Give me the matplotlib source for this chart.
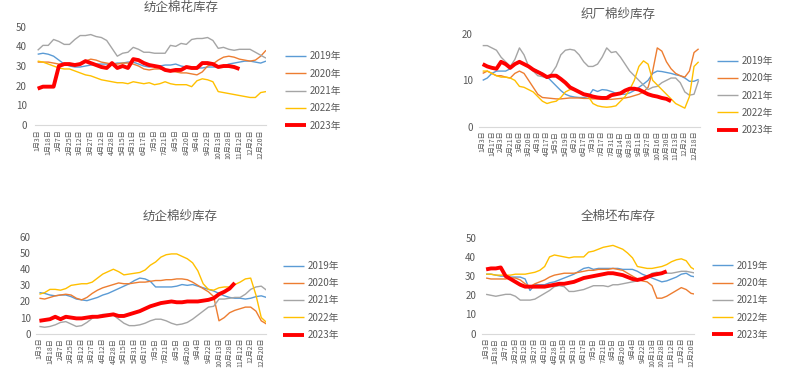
import numpy as np
import matplotlib
matplotlib.use('Agg')
import matplotlib.pyplot as plt

plt.rcParams['font.family'] = ['Noto Sans CJK SC', 'DejaVu Sans']

nan = np.nan

# x 轴标签
dates_a = ['1月3日', '1月18日', '2月7日', '2月25日', '3月12日', '3月27日', '4月12日', '4月28日',
           '5月15日', '5月31日', '6月17日', '7月5日', '7月21日', '8月5日', '8月20日', '9月4日',
           '9月22日', '10月13日', '10月28日', '11月12日', '12月2日', '12月20日']
dates_b = ['1月3日', '1月17日', '2月3日', '2月21日', '3月6日', '3月20日', '4月3日', '4月17日',
           '5月5日', '5月19日', '6月2日', '6月17日', '7月3日', '7月17日', '7月31日', '8月14日',
           '8月28日', '9月11日', '9月27日', '10月16日', '10月30日', '11月13日', '12月2日', '12月18日']
years = ['2019年', '2020年', '2021年', '2022年', '2023年']

# 纺企棉花库存
cotton_2019 = [36, 36.5, 36, 35, 33, 31, 30, 29.5, 29.5, 30, 30.5, 31, 31, 31, 31, 31.5, 31.5, 32, 32, 31,
               30, 29.5, 30, 30, 30.5, 30.5, 31, 30, 29.5, 29, 29, 29, 29.5, 29.5, 29.5, 30, 31, 31.5, 32, 32.5,
               32.5, 32, 31.5, 32.5]
cotton_2020 = [32, 32, 32, 31.5, 31, 31, 30.5, 30.5, 31, 32.5, 33.5, 33, 32, 31.5, 31, 31, 31.5, 31.5, 31, 30,
               28.5, 28, 28.5, 28.5, 28, 27.5, 27, 26.5, 26.5, 26, 25.5, 27, 30, 31, 33, 34.5, 35, 34.5, 33.5, 33,
               32.5, 33, 35, 38]
cotton_2021 = [38, 40.5, 40.5, 43.5, 42.5, 41, 41, 43.5, 45.5, 45.5, 46, 45, 44.5, 43, 39, 35, 36.5, 37, 39.5, 38.5,
               37, 37, 36.5, 36.5, 36.5, 40.5, 40, 41.5, 41, 43.5, 44, 44, 44.5, 43, 39, 39.5, 38.5, 38, 38.5, 38.5,
               38.5, 37, 35.5, 34]
cotton_2022 = [32.5, 32, 31, 30, 29, 28.5, 28.5, 27.5, 26.5, 25.5, 25, 24, 23, 22.5, 22, 21.5, 21.5, 21, 22, 21.5,
               21, 21.5, 20.5, 21, 22, 21, 20.5, 20.5, 20.5, 19.5, 22.5, 23.5, 23, 22, 17, 16.5, 16, 15.5, 15, 14.5,
               14, 14, 16.5, 17]
cotton_2023 = [18.5, 19.5, 19.5, 19.5, 30, 31, 31, 30.5, 31, 32.5, 31.5, 30.5, 29.5, 29, 31.5, 29, 30, 29, 33.5, 33,
               31.5, 30.5, 30, 29.5, 28, 27.5, 28, 28, 29.5, 29, 29, 31.5, 31.5, 31, 29.5, 30, 30, 29.5, 28.5,
               nan, nan, nan, nan, nan]

# 织厂棉纱库存
weave_2019 = [10, 10.5, 11.5, 12, 12, 12, 12.5, 13.5, 14, 13.5, 13, 12.5, 12, 11.5, 10.8, 9.8, 8.8, 7.8, 7, 6.6,
              6.4, 6.3, 6.3, 6.5, 8, 7.6, 8, 7.9, 7.6, 7.2, 7, 7, 7.3, 7.8, 8.5, 9.2, 10, 11.5, 12, 11.9,
              11.7, 11.5, 11.2, 11, 10.5, 9.8, 9.8, 10.2]
weave_2020 = [11.5, 12, 11.5, 11, 11, 10.7, 10.5, 11.5, 12, 11.5, 10, 8.5, 7, 6.3, 6.2, 6.1, 6, 6, 6.1, 6.2,
              6.2, 6.2, 6.1, 6.1, 6, 6, 5.9, 5.9, 5.9, 6, 6.1, 6.2, 6.4, 6.7, 7, 7.5, 8.5, 12, 17, 16.3,
              14, 12.5, 11.5, 11, 10.7, 12, 16, 16.8]
weave_2021 = [17.5, 17.5, 17, 16.5, 15, 14, 13, 14.5, 17, 15.5, 13, 12, 11, 10.8, 10.5, 11.5, 13, 15.5, 16.5, 16.7,
              16.5, 15.5, 14, 13, 13, 13.5, 15, 17, 16, 16.2, 15, 13.5, 12, 11, 10, 9, 8, 8.5, 8.7, 9.5,
              10, 10.5, 10.5, 9.5, 7.5, 6.8, 7, 10]
weave_2022 = [12, 12, 11.5, 11, 10.7, 10.7, 10.5, 10, 8.7, 8.5, 8, 7.5, 6.5, 5.5, 5, 5.3, 5.5, 6.3, 7.5, 8,
              8, 7.5, 7, 6.5, 5, 4.5, 4.3, 4.2, 4.3, 4.5, 5.5, 6.5, 8, 10, 13, 14.2, 13.5, 10, 9, 8,
              7, 6, 5, 4.5, 4, 6.5, 13, 14]
weave_2023 = [13.5, 13, 12.7, 12.5, 14, 13.5, 12.7, 13.5, 14, 13.5, 13, 12.3, 11.8, 11.3, 10.7, 11, 11, 10.3, 9.5, 8.5,
              8, 7.5, 7, 6.8, 6.5, 6.3, 6.2, 6.2, 6.8, 7, 7.2, 7.8, 8.2, 8.2, 8, 7.5, 7, 6.7, 6.5, 6.2,
              6, 5.5, nan, nan, nan, nan, nan, nan]

# 纺企棉纱库存
yarn_2019 = [25.5, 25, 24, 23.5, 24, 24, 23, 21.5, 21, 20.5, 21.5, 22.5, 24, 25, 26.5, 28, 29.5, 31, 33, 34.5,
             34, 32.5, 29, 29, 29, 29, 29.5, 30.5, 30, 30.5, 29.5, 28.5, 27.5, 26.5, 25, 23.5, 22.5, 22, 22, 21.5,
             22, 23, 23.5, 22.5]
yarn_2020 = [22, 21.5, 22.5, 23.5, 24, 24.5, 24, 22, 21, 22.5, 25, 27, 28.5, 29.5, 30.5, 31.5, 31, 31, 31.5, 32,
             32, 32.5, 33, 33, 33.5, 33.5, 34, 34, 33.5, 32, 30, 28, 26, 23, 8, 10, 13, 14.5, 15.5, 16.5,
             16.5, 14, 8, 6]
yarn_2021 = [4.5, 4, 4.5, 5.5, 7, 7.5, 6, 4.5, 5, 7, 9.5, 11, 12, 12, 11.5, 9, 6.5, 5, 5, 5.5,
             6.5, 8, 9, 9, 8, 6.5, 5.5, 6, 7, 9, 11.5, 14, 16.5, 17, 21.5, 21.5, 22, 22.5, 22.5, 24.5,
             27.5, 29, 29.5, 27]
yarn_2022 = [24.5, 25.5, 27.5, 27.5, 27, 28, 30, 30.5, 31, 31, 32, 34.5, 37, 38.5, 40, 38.5, 36.5, 37, 37.5, 38,
             39.5, 42.5, 44.5, 47.5, 49, 49.5, 49.5, 48, 46.5, 44, 39, 31, 27.5, 27, 28.5, 29, 29, 30.5, 32, 34,
             34.5, 24, 10, 7]
yarn_2023 = [8, 8.5, 9, 10.5, 9, 10.5, 10, 9.5, 9.5, 10, 10.5, 10.5, 11, 11.5, 12, 11, 11, 12, 13, 14,
             15.5, 17, 18, 19, 19.5, 20, 19.5, 19.5, 20, 20, 20, 20.5, 21, 22, 24.5, 26, 28, 31.5,
             nan, nan, nan, nan, nan, nan]

# 全棉坯布库存
cloth_2019 = [31, 31, 30.5, 30, 30, 29.5, 29.5, 29.5, 28.5, 22.5, 25.5, 25.5, 25.5, 26.5, 27, 28, 29, 30, 31, 32.5,
              34, 34.5, 33.5, 34, 34, 34, 34, 34, 33.5, 33.5, 33.5, 32.5, 31, 30, 29, 28, 27, 27.5, 28.5, 29.5,
              31, 31.5, 30, 29.5]
cloth_2020 = [29, 28.5, 28.5, 28.5, 28.5, 29, 29, 28, 26, 24.5, 26, 27, 28, 29.5, 30.5, 31, 31.5, 31.5, 31.5, 32,
              32.5, 33, 33, 33.5, 33.5, 33.5, 34, 33.5, 33, 31.5, 30, 28.5, 27.5, 27, 25, 18.5, 18.5, 19.5, 21, 22.5,
              24, 23, 21, 20.5]
cloth_2021 = [20.5, 20, 19.5, 20, 20.5, 20.5, 19.5, 17.5, 17.5, 17.5, 18, 19.5, 21, 22.5, 24.5, 25, 24.5, 22, 22, 22.5,
              23, 24, 25, 25, 25, 24.5, 25.5, 25.5, 26, 26.5, 27, 27.5, 28.5, 29, 31.5, 32, 31.5, 31.5, 31.5, 32,
              32.5, 32.5, 32, 31.5]
cloth_2022 = [31, 31, 30.5, 30.5, 30.5, 30.5, 31, 31, 31, 31.5, 32, 33, 35, 40, 41, 40.5, 40, 39.5, 40, 40,
              40, 42.5, 43, 44, 45, 45.5, 46, 45, 44, 42, 39.5, 35, 34.5, 34, 34, 34.5, 35, 36, 37.5, 38.5,
              39, 38, 34.5, 33]
cloth_2023 = [33.5, 34, 34, 34.5, 30, 28.5, 27, 25.5, 24.5, 24.5, 24.5, 24.5, 24.5, 25, 25.5, 26, 26, 26.5, 27, 28,
              29, 29.5, 30, 30.5, 31, 31.5, 31.5, 31, 30.5, 29.5, 28.5, 28, 28.5, 29.5, 30.5, 31, 31.5, 32.5,
              nan, nan, nan, nan, nan, nan]

colors = ['#5B9BD5', '#ED7D31', '#A5A5A5', '#FFC000', '#FF0000']
widths = [1.0, 1.0, 1.0, 1.0, 2.8]
TXT = '#595959'
W, H = 800, 382

fig = plt.figure(figsize=(W / 100, H / 100), dpi=100)


def px_box(l, t, r, b):
    return [l / W, 1 - b / H, (r - l) / W, (b - t) / H]


def panel(box, series, labels, ymax, xlim, title, title_xy, leg_xy, ypad):
    ax = fig.add_axes(px_box(*box))
    x = np.arange(len(series[0]))
    for vals, c, lw, name in zip(series, colors, widths, years):
        ax.plot(x, vals, color=c, lw=lw, label=name, solid_capstyle='butt')
    ax.set_xlim(*xlim)
    ax.set_ylim(0, ymax)
    ax.set_yticks(np.arange(0, ymax + 1, 10))
    ax.set_xticks(np.arange(0, 2 * len(labels), 2))
    ax.set_xticklabels(labels, rotation=90, fontsize=5, color=TXT)
    ax.tick_params(axis='x', length=0, pad=3)
    ax.tick_params(axis='y', length=0, pad=ypad, labelsize=7, labelcolor=TXT)
    for s in ['top', 'right', 'left']:
        ax.spines[s].set_visible(False)
    ax.spines['bottom'].set_color('#D9D9D9')
    ax.spines['bottom'].set_linewidth(0.8)
    fig.text(title_xy[0] / W, 1 - title_xy[1] / H, title, ha='center', va='center',
             fontsize=9, color=TXT)
    leg = ax.legend(loc='center left', bbox_to_anchor=(leg_xy[0] / W, 1 - leg_xy[1] / H),
                    bbox_transform=fig.transFigure, frameon=False, fontsize=7,
                    handlelength=2.2, handletextpad=0.3, labelspacing=0.75,
                    borderpad=0, borderaxespad=0)
    for t in leg.get_texts():
        t.set_color(TXT)
    return ax


panel((35, 26.7, 266, 125), [cotton_2019, cotton_2020, cotton_2021, cotton_2022, cotton_2023],
      dates_a, 50, (-0.5, 43), '纺企棉花库存', (181, 7), (285, 91), 6)
panel((479, 34, 700, 126.7), [weave_2019, weave_2020, weave_2021, weave_2022, weave_2023],
      dates_b, 20, (-0.8, 47.3), '织厂棉纱库存', (618, 14), (717, 95.5), 4.5)
panel((35.7, 237, 266, 333.7), [yarn_2019, yarn_2020, yarn_2021, yarn_2022, yarn_2023],
      dates_a, 60, (-0.7, 42.9), '纺企棉纱库存', (180, 216), (283, 300.5), 3.5)
panel((481.7, 237.7, 694, 333.7), [cloth_2019, cloth_2020, cloth_2021, cloth_2022, cloth_2023],
      dates_a, 50, (-0.9, 42.6), '全棉坯布库存', (618, 216), (712, 300.3), 4)

fig.savefig('out.png', dpi=100, facecolor='white')
